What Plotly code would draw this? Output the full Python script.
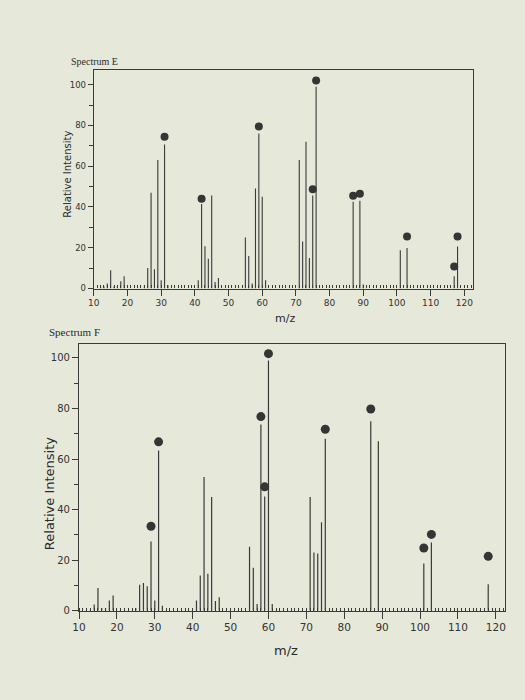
import plotly.graph_objects as go

# ---------------- data ----------------
e_mz = [12, 13, 14, 15, 16, 17, 18, 19, 25, 26, 27, 28, 29, 30, 31, 32,
        41, 42, 43, 44, 45, 46, 47, 55, 56, 57, 58, 59, 60, 61,
        71, 72, 73, 74, 75, 76, 87, 89, 90, 101, 103, 117, 118]
e_int = [1, 1, 2.4, 9, 1, 1, 3.5, 6, 1, 10, 47, 9.4, 63, 4, 70.7, 1.6,
         4, 41.5, 20.7, 14.6, 45.6, 3.2, 5.2, 25, 16, 2.4, 49, 76, 45, 4,
         63, 23, 72, 15, 45.6, 99, 42.5, 43, 2, 18.8, 19.9, 6, 20.6]
e_dot_mz = [31, 42, 59, 75, 76, 87, 89, 103, 117, 118]
e_dot_int = [74.4, 44, 79.5, 48.7, 102, 45.5, 46.5, 25.5, 10.8, 25.5]

f_mz = [14, 15, 16, 17, 18, 19, 25, 26, 27, 28, 29, 30, 31, 32,
        41, 42, 43, 44, 45, 46, 47, 55, 56, 57, 58, 59, 60, 61,
        71, 72, 73, 74, 75, 87, 89, 101, 103, 118]
f_int = [2.5, 9, 1, 1, 4, 6, 1, 10.3, 11, 9.7, 27.4, 4, 63.4, 2,
         4, 13.9, 52.9, 14.6, 45, 3.8, 5.3, 25.3, 17, 2.7, 73.7, 45.2, 99, 2.7,
         45, 23, 22.6, 35, 68, 75, 67, 18.7, 27, 10.5]
f_dot_mz = [29, 31, 58, 59, 60, 75, 87, 101, 103, 118]
f_dot_int = [33.4, 66.8, 76.8, 49, 101.7, 71.8, 79.8, 24.8, 30.2, 21.5]

x_ticks = [10, 20, 30, 40, 50, 60, 70, 80, 90, 100, 110, 120]
y_ticks = [0, 20, 40, 60, 80, 100]

PAPER = "#e6e8da"
INK = "#3a3a38"
W, H = 525, 700


def stems(mz, inten):
    xs, ys = [], []
    for m, v in zip(mz, inten):
        xs += [m, m, None]
        ys += [0, v, None]
    return xs, ys


fig = go.Figure()

ex, ey = stems(e_mz, e_int)
fig.add_trace(go.Scatter(x=ex, y=ey, mode="lines", line=dict(color=INK, width=1.1),
                         xaxis="x", yaxis="y", hoverinfo="skip", showlegend=False))
fig.add_trace(go.Scatter(x=e_dot_mz, y=e_dot_int, mode="markers",
                         marker=dict(color="#353535", size=8),
                         xaxis="x", yaxis="y", showlegend=False))

fx, fy = stems(f_mz, f_int)
fig.add_trace(go.Scatter(x=fx, y=fy, mode="lines", line=dict(color=INK, width=1.2),
                         xaxis="x2", yaxis="y2", hoverinfo="skip", showlegend=False))
fig.add_trace(go.Scatter(x=f_dot_mz, y=f_dot_int, mode="markers",
                         marker=dict(color="#353535", size=9),
                         xaxis="x2", yaxis="y2", showlegend=False))


def px_x(p):
    return p / W


def px_y(p):
    return 1 - p / H


def xaxis(left, right, anchor, fsize, tlen):
    return dict(domain=[px_x(left), px_x(right)], range=[10, 122.5], anchor=anchor,
                tickvals=x_ticks, ticks="outside", ticklen=tlen, tickwidth=1,
                tickcolor=INK, showline=True, linecolor=INK, linewidth=1.2,
                mirror=True, showgrid=False, zeroline=False,
                tickfont=dict(family="DejaVu Sans", size=fsize, color="#333333"),
                minor=dict(dtick=1, tick0=10, ticks="inside", ticklen=3,
                           tickcolor=INK, tickwidth=1, showgrid=False))


def yaxis(bottom, top, yr, anchor, fsize, tlen):
    return dict(domain=[px_y(bottom), px_y(top)], range=[0, yr], anchor=anchor,
                tickvals=y_ticks, ticks="outside", ticklen=tlen, tickwidth=1,
                tickcolor=INK, showline=True, linecolor=INK, linewidth=1.2,
                mirror=True, showgrid=False, zeroline=False,
                tickfont=dict(family="DejaVu Sans", size=fsize, color="#333333"),
                minor=dict(dtick=10, tick0=0, ticks="outside", ticklen=4,
                           tickcolor=INK, tickwidth=1, showgrid=False))


def note(text, x, y, size, family="DejaVu Sans", angle=0):
    return dict(text=text, x=px_x(x), y=px_y(y), xref="paper", yref="paper",
                xanchor="center", yanchor="middle", showarrow=False,
                textangle=angle, font=dict(family=family, size=size, color="#2a2a2a"))


fig.update_layout(
    width=W, height=H,
    margin=dict(l=0, r=0, t=0, b=0),
    paper_bgcolor=PAPER, plot_bgcolor=PAPER,
    xaxis=xaxis(88, 472, "y", 9, 6),
    yaxis=yaxis(291, 71, 107, "x", 8.5, 5),
    xaxis2=xaxis(73, 505, "y2", 10.5, 7),
    yaxis2=yaxis(616, 347, 105.5, "x2", 10, 6),
    annotations=[
        note("Spectrum E", 89, 62, 10, "Liberation Serif"),
        note("Spectrum F", 68, 335, 11, "Liberation Serif"),
        note("m/z", 282, 321, 11),
        note("m/z", 283, 656, 13),
        note("Relative Intensity", 61, 176, 10, angle=-90),
        note("Relative Intensity", 43, 498, 13, angle=-90),
    ],
)

fig.write_html("out.html")
